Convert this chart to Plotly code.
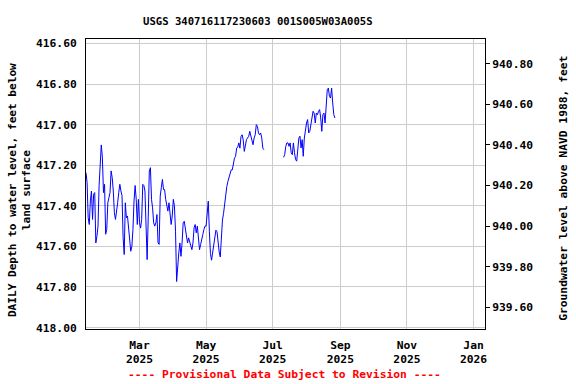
import pandas as pd
import plotly.graph_objects as go

title_text = "USGS 340716117230603 001S005W03A005S"
left_title = "DAILY Depth to water level, feet below<br>land surface"
right_title = "Groundwater level above NAVD 1988, feet"
footer_text = "---- Provisional Data Subject to Revision ----"

# Daily depth to water (feet below land surface)
seg1_start = "2025-01-11"
seg1_depth = [
    417.237, 417.286, 417.459, 417.492, 417.376, 417.327, 417.467, 417.343, 417.335, 417.583,
    417.550, 417.500, 417.300, 417.200, 417.100, 417.160, 417.335, 417.294, 417.540, 417.517,
    417.385, 417.360, 417.335, 417.228, 417.261, 417.327, 417.434, 417.467, 417.434, 417.385,
    417.335, 417.294, 417.327, 417.350, 417.558, 417.640, 417.385, 417.459, 417.450, 417.500,
    417.583, 417.624, 417.600, 417.517, 417.376, 417.300, 417.368, 417.492, 417.368, 417.483,
    417.510, 417.467, 417.294, 417.300, 417.327, 417.517, 417.665, 417.459, 417.228,
    417.212, 417.368, 417.410, 417.484, 417.500, 417.484, 417.443, 417.583, 417.590, 417.352,
    417.310, 417.270, 417.320, 417.320, 417.368, 417.393, 417.426, 417.385, 417.434, 417.492,
    417.450, 417.368, 417.400, 417.525, 417.773,
    417.682, 417.632, 417.583, 417.649, 417.583, 417.484, 417.476, 417.509, 417.550, 417.583,
    417.558, 417.583, 417.591, 417.616, 417.583, 417.509, 417.492, 417.533, 417.500, 417.550,
    417.616, 417.591, 417.558, 417.542, 417.517, 417.500, 417.500, 417.426, 417.377, 417.525,
    417.635, 417.668, 417.635, 417.586, 417.553, 417.520, 417.528, 417.586, 417.627, 417.652,
    417.520, 417.470, 417.437, 417.388, 417.347, 417.305, 417.280, 417.256, 417.248, 417.223,
    417.223, 417.190, 417.165, 417.157, 417.116, 417.110, 417.090, 417.116, 417.058, 417.050,
    417.074, 417.132, 417.090, 417.074, 417.066, 417.058, 417.033, 417.058, 417.090, 417.099,
    417.066, 417.050, 417.000, 417.008, 417.041, 417.050, 417.041, 417.066, 417.116, 417.124,
]
seg2_start = "2025-07-11"
seg2_depth = [
    417.161, 417.148, 417.107, 417.090, 417.090, 417.107, 417.090, 417.139, 417.148, 417.090,
    417.139, 417.172, 417.180, 417.115, 417.066, 417.057, 417.115, 417.074, 417.156, 417.066,
    417.016, 416.992, 416.975, 417.041, 417.033, 417.000, 416.951, 416.934, 416.943, 416.992,
    416.943, 416.951, 416.934, 416.926, 416.967, 417.033, 416.951, 416.943, 416.992, 416.893,
    416.828, 416.820, 416.861, 416.869, 416.820, 416.893, 416.951, 416.967,
]

land_surface_elev = 1357.5  # elevation (NAVD 1988) = land surface - depth

x_range = ["2025-01-11", "2026-01-11 12:00"]
x_tick_vals = ["2025-03-01", "2025-05-01", "2025-07-01", "2025-09-01", "2025-11-01", "2026-01-01"]
x_tick_text = ["Mar<br>2025", "May<br>2025", "Jul<br>2025", "Sep<br>2025", "Nov<br>2025", "Jan<br>2026"]
depth_range = [418.007, 416.578]
depth_ticks = [416.6, 416.8, 417.0, 417.2, 417.4, 417.6, 417.8, 418.0]
elev_ticks = [939.6, 939.8, 940.0, 940.2, 940.4, 940.6, 940.8]

FONT = "DejaVu Sans Mono"
FS = 11.3
GRID = "#cccccc"

d1 = pd.date_range(seg1_start, periods=len(seg1_depth), freq="D")
d2 = pd.date_range(seg2_start, periods=len(seg2_depth), freq="D")

fig = go.Figure()
for d, v in ((d1, seg1_depth), (d2, seg2_depth)):
    fig.add_trace(go.Scatter(x=d, y=v, mode="lines", line=dict(color="#0000ff", width=1),
                             showlegend=False, hoverinfo="x+y"))
# elevation trace on the right axis (invisible, same data)
fig.add_trace(go.Scatter(x=list(d1) + list(d2),
                         y=[land_surface_elev - v for v in seg1_depth + seg2_depth],
                         yaxis="y2", mode="lines", line=dict(color="rgba(0,0,0,0)", width=0),
                         showlegend=False, hoverinfo="skip"))

tickfont = dict(family=FONT, size=FS, color="black", weight="bold")

fig.update_layout(
    width=576, height=384,
    margin=dict(l=86, r=91, t=39, b=55),
    paper_bgcolor="white", plot_bgcolor="white",
    xaxis=dict(type="date", range=x_range, tickvals=x_tick_vals, ticktext=x_tick_text,
               showgrid=True, gridcolor=GRID, gridwidth=1, showline=True, linecolor="black",
               linewidth=1, mirror=True, ticks="outside", ticklen=5,
               tickcolor="rgba(0,0,0,0)", tickfont=tickfont, zeroline=False),
    yaxis=dict(range=depth_range, tickvals=depth_ticks, tickformat=".2f",
               showgrid=True, gridcolor=GRID, gridwidth=1, showline=True, linecolor="black",
               linewidth=1, mirror=True, ticks="outside", ticklen=6,
               tickcolor="rgba(0,0,0,0)", tickfont=tickfont, zeroline=False),
    yaxis2=dict(overlaying="y", side="right",
                range=[land_surface_elev - depth_range[0], land_surface_elev - depth_range[1]],
                tickvals=elev_ticks, tickformat=".2f", showgrid=False, showline=False,
                ticks="outside", ticklen=4, tickcolor="black", tickfont=tickfont,
                zeroline=False),
    annotations=[
        dict(text=title_text, xref="paper", yref="paper", x=0.431, y=1.063,
             xanchor="center", yanchor="middle", showarrow=False,
             font=dict(family=FONT, size=10.6, color="black", weight="bold")),
        dict(text=left_title, xref="paper", yref="paper", x=-0.168, y=0.479,
             xanchor="center", yanchor="middle", showarrow=False, textangle=-90,
             font=dict(family=FONT, size=11.1, color="black", weight="bold")),
        dict(text=right_title, xref="paper", yref="paper", x=1.195, y=0.486,
             xanchor="center", yanchor="middle", showarrow=False, textangle=-90,
             font=dict(family=FONT, size=FS, color="black", weight="bold")),
        dict(text=footer_text, xref="paper", yref="paper", x=0.4975, y=-0.1586,
             xanchor="center", yanchor="middle", showarrow=False,
             font=dict(family=FONT, size=FS, color="#ff0000", weight="bold")),
    ],
)

fig.write_html("out.html", config={"displayModeBar": False},
               post_script="document.body.style.margin='0';")
